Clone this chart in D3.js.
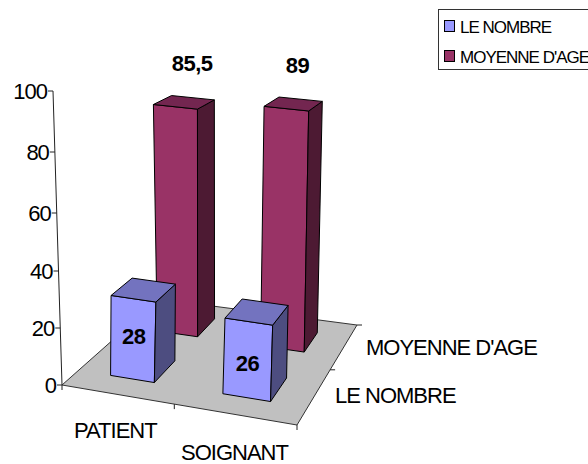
<!DOCTYPE html>
<html><head><meta charset="utf-8">
<script src="https://cdn.jsdelivr.net/npm/d3@7"></script>
<style>html,body{margin:0;padding:0;background:#fff}svg{display:block}text{font-family:"Liberation Sans",Arial,sans-serif;fill:#000}</style>
</head><body><svg id="c" width="588" height="464"></svg>
<script>
const categories = ["PATIENT", "SOIGNANT"];
const series = ["LE NOMBRE", "MOYENNE D'AGE"];
const nombre = [28, 26];
const moyenne = [85.5, 89];
const valueTicks = [0, 20, 40, 60, 80, 100];
const labelText = [["28", "26"], ["85,5", "89"]];

const svg = d3.select("#c");
function homography(q) {
  const [p0, p1, p2, p3] = q;
  const dx1 = p1[0]-p2[0], dx2 = p3[0]-p2[0], sx = p0[0]-p1[0]+p2[0]-p3[0];
  const dy1 = p1[1]-p2[1], dy2 = p3[1]-p2[1], sy = p0[1]-p1[1]+p2[1]-p3[1];
  const den = dx1*dy2-dx2*dy1;
  const g = (sx*dy2-dx2*sy)/den, h = (dx1*sy-sx*dy1)/den;
  const a = p1[0]-p0[0]+g*p1[0], b = p3[0]-p0[0]+h*p3[0];
  const d = p1[1]-p0[1]+g*p1[1], e = p3[1]-p0[1]+h*p3[1];
  return (u,v) => { const w = g*u+h*v+1; return [(a*u+b*v+p0[0])/w, (d*u+e*v+p0[1])/w]; };
}
function bilinear(q) {
  const [p0, p1, p2, p3] = q;
  return (u,v) => [0,1].map(i => (1-v)*((1-u)*p0[i]+u*p1[i]) + v*((1-u)*p3[i]+u*p2[i]));
}
const floorQuad = [[62,385],[297,425],[357,325],[159,299]];
const ceilQuad  = [[64,82],[306,108],[364,69],[151,49]];
const floorH = homography(floorQuad), ceilH = bilinear(ceilQuad);
const axisY = d3.scaleLinear().domain(valueTicks).range([385,328,271,213,152,91]);
const t = z => (385-axisY(z))/(385-91);
function P(u,v,z){ const a=floorH(u,v), b=ceilH(u,v), k=t(z); return [a[0]+(b[0]-a[0])*k, a[1]+(b[1]-a[1])*k]; }

const uScale = d3.scaleBand().domain(categories).range([0,1]).paddingInner(.6).paddingOuter(.3);
const vScale = d3.scaleBand().domain(series).range([0,1]).paddingInner(.55).paddingOuter(.3);

const path = pts => "M"+pts.map(p=>p.join(",")).join("L")+"Z";
svg.append("path").attr("d",path(floorQuad)).attr("fill","#c0c0c0").attr("stroke","#333").attr("stroke-width",1);
svg.append("line").attr("x1",53).attr("y1",axisY(100)).attr("x2",62).attr("y2",axisY(0)).attr("stroke","#222");
valueTicks.forEach(z=>{
  const y=axisY(z), x=62-9*t(z);
  svg.append("line").attr("x1",x-5).attr("x2",x).attr("y1",y).attr("y2",y).attr("stroke","#222");
  svg.append("text").attr("x",x-6).attr("y",y+8).attr("text-anchor","end").attr("font-size",22).attr("letter-spacing",-1).text(z);
});
[0,.5,1].forEach(u=>{ const p=floorH(u,0); svg.append("line").attr("x1",p[0]).attr("y1",p[1]).attr("x2",p[0]).attr("y2",p[1]+5).attr("stroke","#222"); });
[.5,1].forEach(v=>{ const p=floorH(1,v); svg.append("line").attr("x1",p[0]).attr("y1",p[1]).attr("x2",p[0]+5).attr("y2",p[1]).attr("stroke","#222"); });

const palette = {
 "LE NOMBRE":{front:"#9999ff",top:"#7373bf",side:"#4d4d80"},
 "MOYENNE D'AGE":{front:"#993366",top:"#732650",side:"#4d1a33"}
};
const rows = [[series[1],moyenne,1],[series[0],nombre,0]];
rows.forEach(([s,vals,si])=>{
  vals.forEach((val,ci)=>{
    const c=categories[ci], u0=uScale(c), u1=u0+uScale.bandwidth(), v0=vScale(s), v1=v0+vScale.bandwidth();
    const g=svg.append("g"), col=palette[s];
    const face=(pts,f)=>g.append("path").attr("d",path(pts)).attr("fill",f).attr("stroke","#000").attr("stroke-width",1).attr("stroke-linejoin","round");
    face([P(u0,v0,0),P(u1,v0,0),P(u1,v0,val),P(u0,v0,val)],col.front);
    face([P(u1,v0,0),P(u1,v1,0),P(u1,v1,val),P(u1,v0,val)],col.side);
    face([P(u0,v0,val),P(u1,v0,val),P(u1,v1,val),P(u0,v1,val)],col.top);
  });
});
rows.forEach(([s,vals,si])=>{
  vals.forEach((val,ci)=>{
    const c=categories[ci], um=uScale(c)+uScale.bandwidth()/2, v0=vScale(s), v1=v0+vScale.bandwidth();
    let x,y;
    if(si===0){ const p=P(um,v0,val/2); x=p[0]+[1,0][ci]; y=p[1]+[5,11][ci]; }
    else { const p=P(um,(v0+v1)/2,val); x=p[0]+[8,4][ci]; y=p[1]-31; }
    svg.append("text").attr("x",x).attr("y",y).attr("text-anchor","middle").attr("font-size",22).attr("font-weight","bold").attr("letter-spacing",-.5).text(labelText[si][ci]);
  });
});
const axText=(x,y,tx)=>svg.append("text").attr("x",x).attr("y",y).attr("font-size",22).attr("letter-spacing",-1).text(tx);
axText(74,438,categories[0]); axText(181,460,categories[1]);
axText(335,403,series[0]); axText(366,355,series[1]);
svg.append("rect").attr("x",438.5).attr("y",9.5).attr("width",170).attr("height",60).attr("fill","#fff").attr("stroke","#333");
series.forEach((s,i)=>{
  const y=[20,50][i];
  svg.append("rect").attr("x",444.5).attr("y",y+.5).attr("width",10).attr("height",11).attr("fill",palette[s].front).attr("stroke","#000");
  svg.append("text").attr("x",460).attr("y",y+13).attr("font-size",17).attr("letter-spacing",-1).text(s);
});
</script></body></html>
